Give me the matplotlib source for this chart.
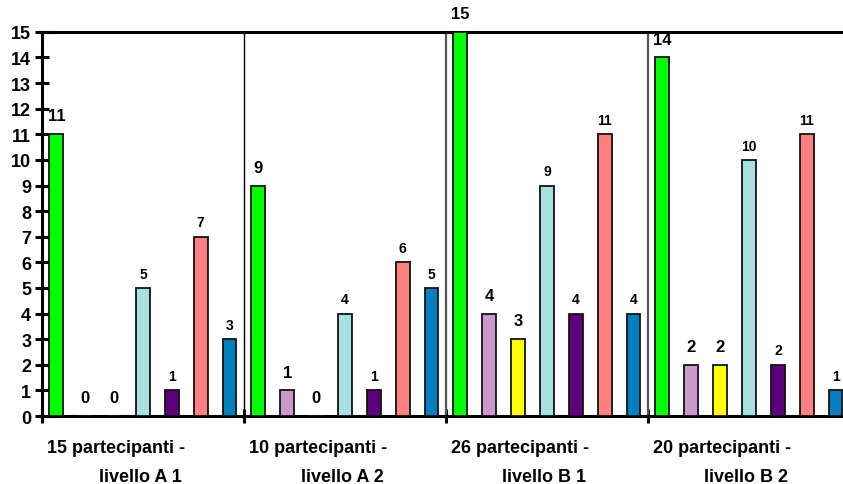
import matplotlib as mpl
import matplotlib.pyplot as plt
import matplotlib.transforms as mtransforms
import numpy as np


mpl.rcParams.update(
    {
        "font.family": ["Liberation Sans", "DejaVu Sans"],
        "font.weight": "bold",
        "font.size": 13,
        "axes.linewidth": 2.2,
        "figure.dpi": 100,
    }
)

# participants per group (first line of the category label) and level
GROUP_LINE1 = ["15 partecipanti -", "10 partecipanti -", "26 partecipanti -", "20 partecipanti -"]
GROUP_LINE2 = ["livello A 1", "livello A 2", "livello B 1", "livello B 2"]

# one list per series, one value per group
S_GREEN = [11, 9, 15, 14]
S_LILAC = [0, 1, 4, 2]
S_YELLOW = [0, 0, 3, 2]
S_LIGHTBLUE = [5, 4, 9, 10]
S_PURPLE = [1, 1, 4, 2]
S_SALMON = [7, 6, 11, 11]
S_BLUE = [3, 5, 4, 1]

SERIES = [S_GREEN, S_LILAC, S_YELLOW, S_LIGHTBLUE, S_PURPLE, S_SALMON, S_BLUE]
COLORS = ["#00FF00", "#CC99CC", "#FFFF00", "#A6E0E0", "#5E007C", "#FF8080", "#0080C0"]
# the first three series carry bigger value labels
LABEL_SIZE = [12, 12, 12, 10, 10, 10, 10]
LABEL_GAP = [10, 10, 10, 7.5, 7.5, 7.5, 7.5]

n_groups = len(GROUP_LINE1)
n_series = len(SERIES)

fig = plt.figure(figsize=(8.43, 4.85))
ax = fig.add_axes([0.0498, 0.1402, 0.9585, 0.792])

for j, (vals, color) in enumerate(zip(SERIES, COLORS)):
    x = np.arange(n_groups) * n_series + j + 0.5
    ax.bar(x, vals, width=0.48, color=color, edgecolor="#111111", linewidth=1.3, zorder=3)
    for xi, v in zip(x, vals):
        ax.annotate(
            f"{v}",
            (xi, v),
            xytext=(0, LABEL_GAP[j]),
            textcoords="offset points",
            ha="center",
            va="baseline",
            fontsize=LABEL_SIZE[j],
            fontweight="bold",
            annotation_clip=False,
            zorder=4,
        )

# separators between groups
for g in range(1, n_groups):
    ax.axvline(g * n_series, color="black" if g == 1 else "#555555",
               lw=1.0 if g == 1 else 1.6, zorder=2)

ax.set_xlim(0, n_groups * n_series)
ax.set_ylim(0, 15)
ax.set_yticks(np.arange(0, 16))
ax.set_xticks(np.arange(0, n_groups + 1) * n_series)
ax.set_xticklabels([])
ax.tick_params(axis="y", direction="inout", length=9.5, width=2.2, pad=3, labelsize=13)
ax.tick_params(axis="x", direction="inout", length=10, width=2.2)
ax.spines["right"].set_visible(False)

trans = mtransforms.blended_transform_factory(ax.transData, ax.transAxes)
for g in range(n_groups):
    xr = g * n_series + 4.95
    ax.text(xr, -0.094, GROUP_LINE1[g], transform=trans, ha="right", va="baseline", fontsize=13)
    ax.text(xr - 0.1, -0.169, GROUP_LINE2[g], transform=trans, ha="right", va="baseline", fontsize=13)

fig.savefig("out.png", dpi=100)
